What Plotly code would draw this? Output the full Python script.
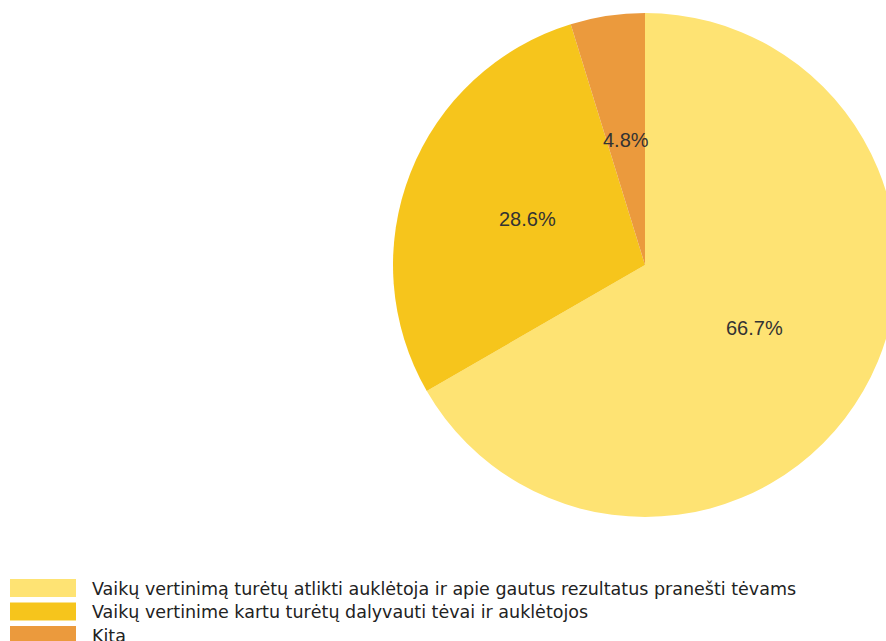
import math
import plotly.graph_objects as go

labels = [
    "Vaikų vertinimą turėtų atlikti auklėtoja ir apie gautus rezultatus pranešti tėvams",
    "Vaikų vertinime kartu turėtų dalyvauti tėvai ir auklėtojos",
    "Kita",
]
values = [14, 6, 1]
colors = ["#FEE373", "#F6C51C", "#EB9A3D"]

W, H = 900, 641

# pie geometry (pixels)
CX, CY, R = 645, 265, 252

fig = go.Figure(go.Pie(
    labels=labels,
    values=values,
    sort=False,
    direction="clockwise",
    rotation=0,
    marker=dict(colors=colors, line=dict(width=0)),
    textinfo="none",
    domain=dict(x=[(CX - R) / W, (CX + R) / W], y=[1 - (CY + R) / H, 1 - (CY - R) / H]),
    hoverinfo="label+percent",
    showlegend=False,
))

# percentage labels placed at half radius on each slice's mid angle
total = sum(values)
cum = 0.0
annotations = []
for v in values:
    mid = (cum + v / 2) / total * 2 * math.pi
    cum += v
    px = CX + 0.5 * R * math.sin(mid)
    py = CY - 0.5 * R * math.cos(mid)
    annotations.append(dict(
        x=px / W, y=1 - py / H, xref="paper", yref="paper",
        text=f"{v / total * 100:.1f}%", showarrow=False,
        xanchor="center", yanchor="middle",
        font=dict(family="Liberation Sans, Arial, sans-serif", size=20, color="#333333"),
    ))

# custom legend (wide swatches like the original)
shapes = []
row_top = 579
row_step = 23.5
for i, (lab, col) in enumerate(zip(labels, colors)):
    top = row_top + i * row_step
    shapes.append(dict(
        type="rect", xref="paper", yref="paper",
        x0=10 / W, x1=76 / W, y0=1 - (top + 18) / H, y1=1 - top / H,
        fillcolor=col, line=dict(width=0), layer="above",
    ))
    annotations.append(dict(
        x=90 / W, y=1 - (top + 9.5) / H, xref="paper", yref="paper",
        text=lab, showarrow=False, xanchor="left", yanchor="middle",
        font=dict(family="DejaVu Sans, sans-serif", size=17.5, color="#222222"),
    ))

fig.update_layout(
    width=W,
    height=H,
    margin=dict(l=0, r=0, t=0, b=0),
    paper_bgcolor="white",
    plot_bgcolor="white",
    annotations=annotations,
    shapes=shapes,
)

fig.write_html(
    "out.html",
    config={"displayModeBar": False},
    post_script="document.body.style.margin='0';document.body.style.overflow='hidden';",
)
